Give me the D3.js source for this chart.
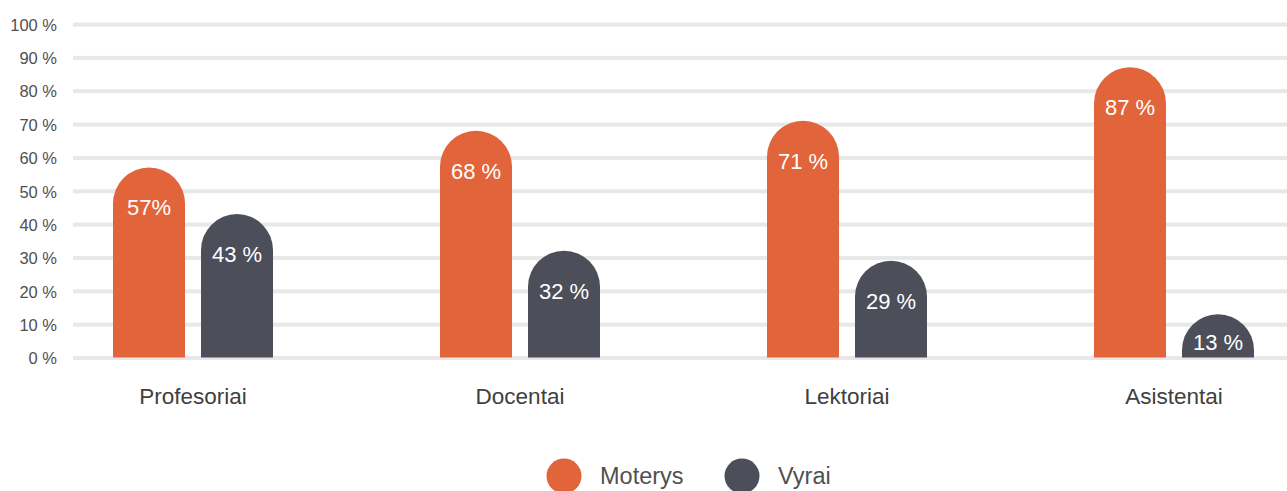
<!DOCTYPE html>
<html>
<head>
<meta charset="utf-8">
<script src="https://cdn.jsdelivr.net/npm/d3@7"></script>
<style>
  html, body { margin: 0; padding: 0; background: #fff; }
  svg { display: block; font-family: "Liberation Sans", "Helvetica Neue", Arial, sans-serif; }
</style>
</head>
<body>
<svg id="chart" width="1287" height="491"></svg>
<script>
// Share of women and men by academic position
const categories = ["Profesoriai", "Docentai", "Lektoriai", "Asistentai"];
const seriesNames = ["Moterys", "Vyrai"];
const moterys = [57, 68, 71, 87];
const vyrai = [43, 32, 29, 13];
const moterysLabels = ["57%", "68 %", "71 %", "87 %"];
const vyraiLabels = ["43 %", "32 %", "29 %", "13 %"];
const yTicks = [0, 10, 20, 30, 40, 50, 60, 70, 80, 90, 100];
const colors = ["#E1643A", "#4C4E59"];

const svg = d3.select("#chart");
const W = 1287;

const y = d3.scaleLinear().domain([0, 100]).range([357.5, 24]);
const x0 = d3.scaleBand().domain(categories).range([29.5, 1337.5]);
const x1 = d3.scaleBand().domain(seriesNames).range([0, 160]).paddingInner(16 / 88);
const color = d3.scaleOrdinal().domain(seriesNames).range(colors);

// gridlines
svg.append("g").selectAll("rect").data(yTicks).join("rect")
  .attr("x", 73).attr("width", W - 73)
  .attr("y", d => y(d) - 1.5).attr("height", 4)
  .attr("fill", "#E8E8E8");

// y axis tick labels
const yAxis = d3.axisLeft(y).tickValues(yTicks).tickFormat(d => d + " %").tickSize(0).tickPadding(0);
const ga = svg.append("g").attr("transform", "translate(57,0)").call(yAxis);
ga.select(".domain").remove();
ga.selectAll("text").attr("font-size", 16.5).attr("fill", "#505050")
  .attr("font-family", "'Liberation Sans', Arial, sans-serif").attr("dy", "0.38em");

const rows = categories.map((c, i) => ({
  cat: c,
  items: [
    { key: "Moterys", value: moterys[i], label: moterysLabels[i] },
    { key: "Vyrai", value: vyrai[i], label: vyraiLabels[i] }
  ]
}));

// bar with fully rounded top
function roundedTopBar(x, top, w, bottom) {
  const r = w / 2;
  const h = bottom - top;
  const rr = Math.min(r, h);
  return `M${x},${bottom} L${x},${top + rr} A${r},${rr} 0 0 1 ${x + w},${top + rr} L${x + w},${bottom} Z`;
}

const groups = svg.append("g").selectAll("g").data(rows).join("g")
  .attr("transform", d => `translate(${x0(d.cat) + x0.bandwidth() / 2 - 80},0)`);

groups.selectAll("path").data(d => d.items).join("path")
  .attr("d", d => roundedTopBar(x1(d.key), y(d.value), x1.bandwidth(), y(0)))
  .attr("fill", d => color(d.key));

groups.selectAll("text.val").data(d => d.items).join("text")
  .attr("class", "val")
  .attr("x", d => x1(d.key) + x1.bandwidth() / 2)
  .attr("y", d => Math.min(y(d.value) + 40, y(0) - 15))
  .attr("dy", "0.36em")
  .attr("text-anchor", "middle")
  .attr("fill", "#fff")
  .attr("font-size", 22)
  .text(d => d.label);

// category labels
const xAxis = d3.axisBottom(x0).tickSize(0).tickPadding(0);
const gx = svg.append("g").attr("transform", "translate(0,396)").call(xAxis);
gx.select(".domain").remove();
gx.selectAll("text").attr("font-size", 22.5).attr("fill", "#404040")
  .attr("font-family", "'Liberation Sans', Arial, sans-serif").attr("dy", "0.36em");

// legend
const legendPos = [564, 742];
const lg = svg.append("g").selectAll("g").data(seriesNames).join("g")
  .attr("transform", (d, i) => `translate(${legendPos[i]},476)`);
lg.append("circle").attr("r", 17.5).attr("fill", d => color(d));
lg.append("text").attr("x", 36).attr("dy", "0.36em")
  .attr("font-size", 23.5).attr("fill", "#505050").text(d => d);
</script>
</body>
</html>
